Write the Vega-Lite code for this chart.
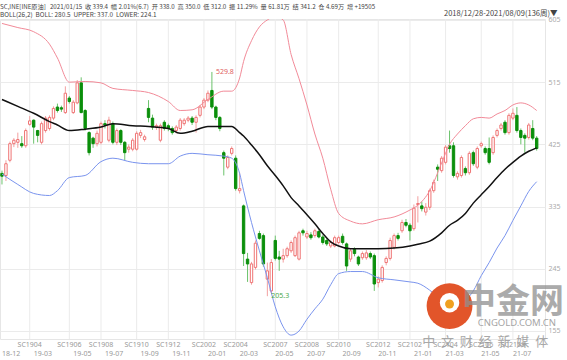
{
"$schema": "https://vega.github.io/schema/vega-lite/v6.json",
"width": 545, "height": 320,
"autosize": {"type": "none"},
"padding": {"left": 0, "top": 19, "right": 22, "bottom": 21},
"background": "white",
"config": {"view": {"stroke": "#e6e6e6"}, "font": "Noto Sans CJK SC"},
"title": {"text": "SC,INE[INE原油]\u00a0\u00a0 2021/01/15\u00a0 收 339.4\u00a0 幅 2.01%(6.7)\u00a0 开 338.0\u00a0 高 350.0\u00a0 低 312.0\u00a0 振 11.29%\u00a0 量 61.81万\u00a0 结 341.2\u00a0 仓 4.69万\u00a0 增 +19505", "subtitle": "BOLL(26,2)\u00a0 BOLL: 280.5\u00a0 UPPER: 337.0\u00a0 LOWER: 224.1", "anchor": "start", "frame": "group", "font": "Liberation Sans Narrow, Noto Sans CJK SC, sans-serif", "subtitleFont": "Liberation Sans Narrow, Noto Sans CJK SC, sans-serif", "fontSize": 6.2, "fontWeight": "normal", "color": "#444", "subtitleFontSize": 6.4, "subtitleColor": "#444", "offset": -9, "subtitlePadding": 1.5},
"datasets": {
"k": [
{"date":"2018-12-28","open":383,"high":387,"low":367,"close":379},
{"date":"2019-01-04","open":380,"high":402,"low":372,"close":397},
{"date":"2019-01-11","open":402,"high":429,"low":399,"close":426},
{"date":"2019-01-18","open":426,"high":434,"low":421,"close":431},
{"date":"2019-01-25","open":428,"high":442,"low":420,"close":432},
{"date":"2019-02-01","open":426,"high":437,"low":420,"close":423},
{"date":"2019-02-15","open":423,"high":448,"low":420,"close":445},
{"date":"2019-02-22","open":454,"high":466,"low":452,"close":459},
{"date":"2019-03-01","open":460,"high":461,"low":426,"close":450},
{"date":"2019-03-08","open":445,"high":446,"low":428,"close":438},
{"date":"2019-03-15","open":428,"high":458,"low":425,"close":455},
{"date":"2019-03-22","open":445,"high":466,"low":442,"close":463},
{"date":"2019-03-29","open":448,"high":467,"low":445,"close":464},
{"date":"2019-04-04","open":463,"high":480,"low":460,"close":477},
{"date":"2019-04-12","open":479,"high":484,"low":471,"close":474},
{"date":"2019-04-19","open":478,"high":481,"low":472,"close":476},
{"date":"2019-04-26","open":471,"high":509,"low":469,"close":499},
{"date":"2019-04-30","open":492,"high":495,"low":484,"close":487},
{"date":"2019-05-10","open":471,"high":489,"low":469,"close":486},
{"date":"2019-05-17","open":485,"high":518,"low":483,"close":514},
{"date":"2019-05-24","open":514,"high":522,"low":470,"close":471},
{"date":"2019-05-31","open":474,"high":476,"low":445,"close":448},
{"date":"2019-06-06","open":442,"high":444,"low":409,"close":413},
{"date":"2019-06-14","open":434,"high":436,"low":420,"close":426},
{"date":"2019-06-21","open":426,"high":445,"low":422,"close":441},
{"date":"2019-06-28","open":428,"high":458,"low":425,"close":455},
{"date":"2019-07-05","open":455,"high":460,"low":448,"close":453},
{"date":"2019-07-12","open":431,"high":465,"low":428,"close":460},
{"date":"2019-07-19","open":455,"high":458,"low":425,"close":428},
{"date":"2019-07-26","open":428,"high":448,"low":424,"close":445},
{"date":"2019-08-02","open":445,"high":447,"low":424,"close":428},
{"date":"2019-08-09","open":428,"high":430,"low":402,"close":413},
{"date":"2019-08-16","open":418,"high":425,"low":413,"close":421},
{"date":"2019-08-23","open":418,"high":434,"low":415,"close":431},
{"date":"2019-08-30","open":418,"high":444,"low":416,"close":441},
{"date":"2019-09-06","open":438,"high":446,"low":434,"close":442},
{"date":"2019-09-12","open":432,"high":439,"low":429,"close":436},
{"date":"2019-09-20","open":477,"high":489,"low":457,"close":464},
{"date":"2019-09-27","open":463,"high":468,"low":446,"close":450},
{"date":"2019-09-30","open":450,"high":455,"low":446,"close":452},
{"date":"2019-10-11","open":431,"high":455,"low":428,"close":452},
{"date":"2019-10-18","open":457,"high":460,"low":445,"close":448},
{"date":"2019-10-25","open":452,"high":455,"low":444,"close":448},
{"date":"2019-11-01","open":448,"high":451,"low":439,"close":442},
{"date":"2019-11-08","open":445,"high":453,"low":441,"close":450},
{"date":"2019-11-15","open":448,"high":463,"low":445,"close":460},
{"date":"2019-11-22","open":455,"high":463,"low":452,"close":460},
{"date":"2019-11-29","open":460,"high":466,"low":457,"close":463},
{"date":"2019-12-06","open":463,"high":466,"low":453,"close":457},
{"date":"2019-12-13","open":457,"high":467,"low":442,"close":464},
{"date":"2019-12-20","open":467,"high":482,"low":464,"close":479},
{"date":"2019-12-27","open":479,"high":492,"low":476,"close":489},
{"date":"2020-01-03","open":489,"high":503,"low":486,"close":499},
{"date":"2020-01-10","open":503,"high":529.8,"low":476,"close":479},
{"date":"2020-01-17","open":479,"high":481,"low":460,"close":464},
{"date":"2020-01-23","open":464,"high":466,"low":444,"close":448},
{"date":"2020-02-07","open":413,"high":416,"low":380,"close":405},
{"date":"2020-02-14","open":392,"high":409,"low":389,"close":406},
{"date":"2020-02-21","open":412,"high":422,"low":409,"close":419},
{"date":"2020-02-28","open":405,"high":409,"low":358,"close":361},
{"date":"2020-03-06","open":358,"high":384,"low":354,"close":361},
{"date":"2020-03-13","open":336,"high":338,"low":249,"close":267},
{"date":"2020-03-20","open":259,"high":268,"low":226,"close":252},
{"date":"2020-03-27","open":225,"high":255,"low":222,"close":252},
{"date":"2020-04-03","open":247,"high":286,"low":244,"close":282},
{"date":"2020-04-10","open":296,"high":300,"low":287,"close":289},
{"date":"2020-04-17","open":293,"high":296,"low":248,"close":252},
{"date":"2020-04-24","open":230,"high":254,"low":205.3,"close":242},
{"date":"2020-04-30","open":213,"high":259,"low":210,"close":254},
{"date":"2020-05-08","open":286,"high":293,"low":257,"close":260},
{"date":"2020-05-15","open":262,"high":271,"low":242,"close":259},
{"date":"2020-05-22","open":259,"high":274,"low":254,"close":264},
{"date":"2020-05-29","open":264,"high":277,"low":261,"close":274},
{"date":"2020-06-05","open":271,"high":286,"low":268,"close":283},
{"date":"2020-06-12","open":264,"high":293,"low":262,"close":290},
{"date":"2020-06-19","open":259,"high":300,"low":257,"close":297},
{"date":"2020-06-24","open":300,"high":303,"low":293,"close":297},
{"date":"2020-07-03","open":291,"high":300,"low":288,"close":296},
{"date":"2020-07-10","open":294,"high":298,"low":287,"close":290},
{"date":"2020-07-17","open":293,"high":303,"low":290,"close":300},
{"date":"2020-07-24","open":299,"high":302,"low":289,"close":291},
{"date":"2020-07-31","open":291,"high":294,"low":280,"close":283},
{"date":"2020-08-07","open":286,"high":289,"low":278,"close":281},
{"date":"2020-08-14","open":278,"high":286,"low":275,"close":283},
{"date":"2020-08-21","open":278,"high":293,"low":276,"close":290},
{"date":"2020-08-28","open":283,"high":293,"low":280,"close":290},
{"date":"2020-09-04","open":292,"high":296,"low":280,"close":283},
{"date":"2020-09-11","open":281,"high":283,"low":242,"close":249},
{"date":"2020-09-18","open":259,"high":274,"low":255,"close":271},
{"date":"2020-09-25","open":273,"high":276,"low":263,"close":267},
{"date":"2020-09-30","open":262,"high":264,"low":249,"close":252},
{"date":"2020-10-09","open":261,"high":270,"low":258,"close":267},
{"date":"2020-10-16","open":261,"high":272,"low":258,"close":268},
{"date":"2020-10-23","open":267,"high":270,"low":259,"close":262},
{"date":"2020-10-30","open":264,"high":267,"low":213,"close":223},
{"date":"2020-11-06","open":225,"high":234,"low":218,"close":230},
{"date":"2020-11-13","open":228,"high":250,"low":225,"close":247},
{"date":"2020-11-20","open":254,"high":263,"low":250,"close":260},
{"date":"2020-11-27","open":260,"high":290,"low":257,"close":286},
{"date":"2020-12-04","open":276,"high":296,"low":273,"close":293},
{"date":"2020-12-11","open":293,"high":297,"low":286,"close":289},
{"date":"2020-12-18","open":300,"high":316,"low":297,"close":312},
{"date":"2020-12-25","open":312,"high":317,"low":305,"close":308},
{"date":"2020-12-31","open":308,"high":311,"low":286,"close":300},
{"date":"2021-01-08","open":303,"high":338,"low":300,"close":332.7},
{"date":"2021-01-15","open":338,"high":350,"low":312,"close":339.4},
{"date":"2021-01-22","open":336,"high":342,"low":328,"close":332},
{"date":"2021-01-29","open":327,"high":340,"low":322,"close":334},
{"date":"2021-02-05","open":334,"high":361,"low":330,"close":358},
{"date":"2021-02-10","open":358,"high":374,"low":355,"close":370},
{"date":"2021-02-19","open":392,"high":396,"low":372,"close":389},
{"date":"2021-02-26","open":387,"high":408,"low":384,"close":405},
{"date":"2021-03-05","open":399,"high":424,"low":396,"close":421},
{"date":"2021-03-12","open":423,"high":445,"low":413,"close":419},
{"date":"2021-03-19","open":423,"high":428,"low":377,"close":380},
{"date":"2021-03-26","open":378,"high":386,"low":374,"close":383},
{"date":"2021-04-02","open":380,"high":409,"low":377,"close":406},
{"date":"2021-04-09","open":390,"high":393,"low":380,"close":384},
{"date":"2021-04-16","open":384,"high":415,"low":381,"close":412},
{"date":"2021-04-23","open":413,"high":416,"low":394,"close":397},
{"date":"2021-04-30","open":392,"high":422,"low":389,"close":419},
{"date":"2021-05-07","open":423,"high":429,"low":420,"close":426},
{"date":"2021-05-14","open":419,"high":422,"low":410,"close":413},
{"date":"2021-05-21","open":419,"high":435,"low":396,"close":399},
{"date":"2021-05-28","open":413,"high":438,"low":410,"close":435},
{"date":"2021-06-04","open":438,"high":448,"low":435,"close":445},
{"date":"2021-06-11","open":448,"high":456,"low":445,"close":453},
{"date":"2021-06-18","open":457,"high":460,"low":439,"close":442},
{"date":"2021-06-25","open":442,"high":470,"low":439,"close":467},
{"date":"2021-07-02","open":463,"high":477,"low":460,"close":470},
{"date":"2021-07-09","open":467,"high":479,"low":442,"close":445},
{"date":"2021-07-16","open":445,"high":448,"low":425,"close":435},
{"date":"2021-07-23","open":438,"high":441,"low":413,"close":434},
{"date":"2021-07-30","open":435,"high":456,"low":432,"close":453},
{"date":"2021-08-06","open":448,"high":460,"low":431,"close":434},
{"date":"2021-08-09","open":434,"high":437,"low":416,"close":419}
],
"boll": [
{"date":"2018-12-28","mid":490,"upper":600,"lower":382},
{"date":"2019-01-25","mid":480,"upper":594,"lower":367},
{"date":"2019-03-01","mid":470,"upper":588,"lower":354},
{"date":"2019-03-29","mid":458,"upper":570,"lower":351},
{"date":"2019-04-12","mid":453,"upper":550,"lower":358},
{"date":"2019-04-30","mid":445,"upper":515,"lower":377},
{"date":"2019-05-31","mid":447,"upper":516,"lower":380},
{"date":"2019-06-28","mid":450,"upper":514,"lower":400},
{"date":"2019-07-19","mid":455,"upper":506,"lower":405},
{"date":"2019-08-23","mid":452,"upper":503,"lower":399},
{"date":"2019-09-20","mid":451,"upper":500,"lower":397},
{"date":"2019-10-25","mid":448,"upper":487,"lower":397},
{"date":"2019-11-15","mid":441,"upper":474,"lower":408},
{"date":"2019-12-06","mid":444,"upper":475,"lower":412},
{"date":"2020-01-03","mid":451,"upper":490,"lower":410},
{"date":"2020-02-07","mid":451,"upper":502,"lower":408},
{"date":"2020-02-21","mid":451,"upper":502,"lower":405},
{"date":"2020-03-06","mid":442,"upper":521,"lower":383},
{"date":"2020-03-13","mid":437,"upper":545,"lower":358},
{"date":"2020-03-27","mid":424,"upper":575,"lower":312},
{"date":"2020-04-10","mid":410,"upper":595,"lower":271},
{"date":"2020-04-24","mid":394,"upper":605,"lower":232},
{"date":"2020-05-08","mid":380,"upper":610,"lower":190},
{"date":"2020-05-22","mid":365,"upper":605,"lower":161},
{"date":"2020-06-05","mid":348,"upper":555,"lower":149},
{"date":"2020-06-19","mid":336,"upper":520,"lower":155},
{"date":"2020-07-03","mid":323,"upper":482,"lower":172},
{"date":"2020-07-17","mid":310,"upper":440,"lower":187},
{"date":"2020-07-31","mid":296,"upper":405,"lower":201},
{"date":"2020-08-14","mid":284,"upper":360,"lower":222},
{"date":"2020-08-28","mid":278,"upper":325,"lower":238},
{"date":"2020-09-18","mid":274,"upper":314,"lower":241},
{"date":"2020-10-09","mid":274,"upper":310,"lower":241},
{"date":"2020-11-06","mid":274,"upper":316,"lower":232},
{"date":"2020-12-04","mid":275,"upper":320,"lower":229},
{"date":"2020-12-31","mid":278,"upper":330,"lower":226},
{"date":"2021-01-15","mid":280.5,"upper":337,"lower":224.1},
{"date":"2021-02-05","mid":285,"upper":358,"lower":214},
{"date":"2021-02-26","mid":297,"upper":398,"lower":199},
{"date":"2021-03-12","mid":308,"upper":425,"lower":191},
{"date":"2021-03-26","mid":315,"upper":440,"lower":190},
{"date":"2021-04-09","mid":325,"upper":452,"lower":199},
{"date":"2021-04-23","mid":340,"upper":462,"lower":213},
{"date":"2021-05-07","mid":352,"upper":464,"lower":235},
{"date":"2021-05-21","mid":364,"upper":463,"lower":254},
{"date":"2021-06-04","mid":377,"upper":469,"lower":275},
{"date":"2021-06-18","mid":389,"upper":474,"lower":293},
{"date":"2021-07-02","mid":399,"upper":482,"lower":315},
{"date":"2021-07-16","mid":408,"upper":485,"lower":336},
{"date":"2021-07-30","mid":415,"upper":482,"lower":357},
{"date":"2021-08-09","mid":420,"upper":474,"lower":371}
],
"rolls": [
{"date":"2019-02-22","contract":"SC1904"},
{"date":"2019-04-30","contract":"SC1906"},
{"date":"2019-06-28","contract":"SC1908"},
{"date":"2019-08-30","contract":"SC1910"},
{"date":"2019-10-25","contract":"SC1912"},
{"date":"2019-12-27","contract":"SC2002"},
{"date":"2020-02-28","contract":"SC2004"},
{"date":"2020-05-08","contract":"SC2007"},
{"date":"2020-07-03","contract":"SC2008"},
{"date":"2020-08-28","contract":"SC2010"},
{"date":"2020-11-06","contract":"SC2012"},
{"date":"2020-12-31","contract":"SC2102"},
{"date":"2021-03-05","contract":"SC2104"},
{"date":"2021-05-07","contract":"SC2106"},
{"date":"2021-07-02","contract":"SC2108"}
],
"months": [
{"date":"2018-12-28","month":"18-12"},
{"date":"2019-03-01","month":"19-03"},
{"date":"2019-05-10","month":"19-05"},
{"date":"2019-07-05","month":"19-07"},
{"date":"2019-09-06","month":"19-09"},
{"date":"2019-11-01","month":"19-11"},
{"date":"2020-01-03","month":"20-01"},
{"date":"2020-03-06","month":"20-03"},
{"date":"2020-05-08","month":"20-05"},
{"date":"2020-07-03","month":"20-07"},
{"date":"2020-09-04","month":"20-09"},
{"date":"2020-11-06","month":"20-11"},
{"date":"2021-01-08","month":"21-01"},
{"date":"2021-03-05","month":"21-03"},
{"date":"2021-05-07","month":"21-05"},
{"date":"2021-07-02","month":"21-07"}
],
"ext": [
{"date":"2020-01-10","price":529.8,"label":"529.8"},
{"date":"2020-04-24","price":205.3,"label":"205.3"}
]
},
"layer": [
{
"data": {"name": "rolls"},
"mark": {"type": "rule", "color": "#ebebeb", "strokeWidth": 1},
"encoding": {
"x": {"field": "date", "type": "ordinal",
"scale": {"type": "band", "paddingInner": 0.4, "paddingOuter": 2.07, "align": 0.1, "round": false},
"axis": null}
}
},
{
"data": {"name": "rolls"},
"mark": {"type": "text", "fontSize": 7, "color": "#999", "font": "Liberation Sans Narrow, Noto Sans, sans-serif", "baseline": "middle", "align": "center"},
"encoding": {
"x": {"field": "date", "type": "ordinal", "axis": null},
"y": {"datum": 134.7},
"text": {"field": "contract"}
}
},
{
"data": {"name": "months"},
"mark": {"type": "text", "fontSize": 7, "color": "#999", "font": "Liberation Sans Narrow, Noto Sans, sans-serif", "baseline": "middle", "align": "left"},
"encoding": {
"x": {"field": "date", "type": "ordinal", "axis": null},
"y": {"datum": 121.7},
"text": {"field": "month"}
}
},
{
"data": {"name": "k"},
"mark": {"type": "rule", "strokeWidth": 1},
"encoding": {
"x": {"field": "date", "type": "ordinal", "axis": null},
"y": {"field": "low", "type": "quantitative",
"scale": {"domain": [143.4, 606.4], "nice": false, "zero": false},
"axis": {"orient": "right", "values": [155, 245, 335, 425, 515, 605], "grid": true, "gridColor": "#ebebeb", "ticks": false, "domain": false, "labelFontSize": 7, "labelColor": "#aaa", "labelFont": "Liberation Sans Narrow, Noto Sans, sans-serif", "labelPadding": 3, "title": "2018/12/28-2021/08/09(136周)▼", "titleAngle": 0, "titleX": 12, "titleY": -6, "titleAlign": "right", "titleBaseline": "middle", "titleFont": "Liberation Sans Narrow, Noto Sans CJK SC, sans-serif", "titleFontSize": 7.5, "titleFontWeight": "normal", "titleColor": "#444"}},
"y2": {"field": "high"},
"color": {"condition": {"test": "datum.close >= datum.open", "value": "#f3a0a0"}, "value": "#6cc36c"}
}
},
{
"data": {"name": "k"},
"mark": {"type": "bar", "strokeWidth": 1},
"encoding": {
"x": {"field": "date", "type": "ordinal", "axis": null},
"y": {"field": "open", "type": "quantitative"},
"y2": {"field": "close"},
"fill": {"condition": {"test": "datum.close >= datum.open", "value": "#ffffff"}, "value": "#0b8f0b"},
"stroke": {"condition": {"test": "datum.close >= datum.open", "value": "#ef7474"}, "value": "#0b8f0b"}
}
},
{
"data": {"name": "boll"},
"mark": {"type": "line", "color": "#f28a98", "strokeWidth": 1, "interpolate": "monotone", "clip": true},
"encoding": {
"x": {"field": "date", "type": "ordinal", "axis": null},
"y": {"field": "upper", "type": "quantitative"}
}
},
{
"data": {"name": "boll"},
"mark": {"type": "line", "color": "#7a94ee", "strokeWidth": 1, "interpolate": "monotone", "clip": true},
"encoding": {
"x": {"field": "date", "type": "ordinal", "axis": null},
"y": {"field": "lower", "type": "quantitative"}
}
},
{
"data": {"name": "boll"},
"mark": {"type": "line", "color": "#111111", "strokeWidth": 1.5, "interpolate": "monotone", "clip": true},
"encoding": {
"x": {"field": "date", "type": "ordinal", "axis": null},
"y": {"field": "mid", "type": "quantitative"}
}
},
{
"data": {"name": "ext"},
"mark": {"type": "text", "fontSize": 7, "align": "left", "baseline": "middle", "dx": 4, "font": "Liberation Sans Narrow, Noto Sans, sans-serif"},
"encoding": {
"x": {"field": "date", "type": "ordinal", "axis": null},
"y": {"field": "price", "type": "quantitative"},
"text": {"field": "label"},
"color": {"condition": {"test": "datum.price > 400", "value": "#e06060"}, "value": "#4aa84a"}
}
},
{
"data": {"values": [{}]},
"mark": {"type": "point", "shape": "circle", "size": 2100, "filled": true, "color": "#e2552a", "opacity": 1},
"encoding": {
"x": {"datum": "2021-03-12", "type": "ordinal", "axis": null},
"y": {"datum": 191}
}
},
{
"data": {"values": [{}]},
"mark": {"type": "point", "shape": "circle", "size": 380, "filled": true, "color": "#ffffff", "opacity": 1},
"encoding": {
"x": {"datum": "2021-03-12", "type": "ordinal", "axis": null},
"y": {"datum": 196}
}
},
{
"data": {"values": [{}]},
"mark": {"type": "point", "shape": "circle", "size": 80, "filled": true, "color": "#f0a020", "opacity": 1},
"encoding": {
"x": {"datum": "2021-03-12", "type": "ordinal", "axis": null},
"y": {"datum": 194}
}
},
{
"data": {"values": [{}]},
"mark": {"type": "text", "text": "中金网", "fontSize": 34, "fontWeight": "bold", "color": "#8f8f8f", "opacity": 0.75, "align": "center", "baseline": "middle"},
"encoding": {
"x": {"datum": "2021-07-02", "type": "ordinal", "axis": null},
"y": {"datum": 196}
}
},
{
"data": {"values": [{}]},
"mark": {"type": "text", "text": "CNGOLD.COM.CN", "fontSize": 9.5, "color": "#8f8f8f", "opacity": 0.8, "align": "center", "baseline": "middle", "font": "Noto Sans"},
"encoding": {
"x": {"datum": "2021-07-09", "type": "ordinal", "axis": null},
"y": {"datum": 167}
}
},
{
"data": {"values": [{}]},
"mark": {"type": "text", "text": "中\u00a0\u00a0文\u00a0\u00a0财\u00a0\u00a0经\u00a0\u00a0新\u00a0\u00a0媒\u00a0\u00a0体", "fontSize": 13, "color": "#999999", "opacity": 0.85, "align": "center", "baseline": "middle"},
"encoding": {
"x": {"datum": "2021-05-14", "type": "ordinal", "axis": null},
"y": {"datum": 139}
}
}
]
}
